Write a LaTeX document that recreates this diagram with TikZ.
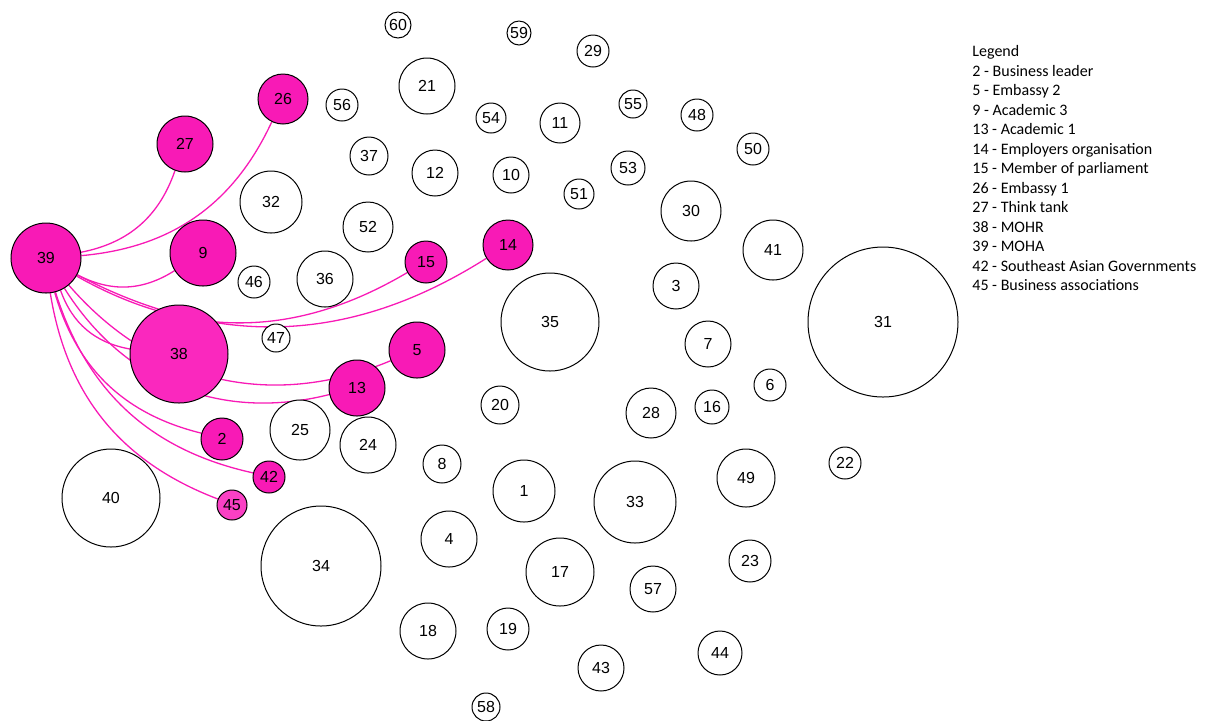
\documentclass[tikz,border=0pt]{standalone}
\usepackage{fontspec}
\setmainfont{Liberation Sans}
\newfontfamily\legendfont{Carlito}
\usetikzlibrary{backgrounds}

\definecolor{mohapink}{RGB}{248,26,182}
\definecolor{mohrpink}{RGB}{250,40,190}
\definecolor{assocpink}{RGB}{250,64,196}

\begin{document}
\begin{tikzpicture}[x=0.5pt, y=-0.5pt,
    actor/.style={circle, draw=black, line width=0.5pt, inner sep=0pt, fill=white,
                  font=\fontsize{8pt}{9pt}\selectfont},
    linked/.style={actor, fill=mohapink},
    tie/.style={mohapink, line width=0.65pt},
    legend/.style={anchor=north west, align=left, inner sep=0pt,
                   font=\legendfont\fontsize{8pt}{9.75pt}\selectfont}]
    \useasboundingbox (0,0) rectangle (1211,720);
    % Akteure ohne Verbindung
    \foreach \lbl/\x/\y/\r in {60/398/25/13, 59/519/33/12, 29/593/51/16, 21/427/86/28,
        56/342/105/16, 54/491/118/15, 11/560/123/20, 55/633/104/14, 48/697/115/16,
        50/753/149/16, 37/369/156/19, 12/435/173/23, 10/511/175/18, 53/628/168/17,
        51/579/194/15, 32/271/202/31, 30/691/211/30, 52/368/227/25, 41/773/250/30,
        46/254/282/16, 36/325/279/28, 3/676/286/23, 31/883/322/75, 35/550/322/49,
        47/276/338/14, 7/708/344/23, 6/770/385/16, 20/500/405/19, 28/651/413/25,
        16/712/407/17, 25/300/430/30, 24/368/445/28, 8/442/464/19, 22/845/463/16,
        1/524/491/31, 33/635/502/41, 49/746/478/29, 40/111/498/49, 4/449/539/28,
        34/321/566/60, 23/750/561/21, 17/560/572/34, 57/653/589/23, 18/428/631/28,
        19/508/629/21, 43/601/668/23, 44/720/653/22, 58/486/707/14} {
        \node[actor, minimum size=\r pt] (n\lbl) at (\x,\y) {\lbl};
    }
    % Netzwerk von 39
    \foreach \lbl/\x/\y/\r in {39/46/258/35, 27/185/144/28, 26/283/99/25, 9/203/253/33,
        15/426/262/21, 14/508/245/25, 5/417/350/28, 13/357/388/28, 2/222/439/21,
        42/269/477/16} {
        \node[linked, minimum size=\r pt] (n\lbl) at (\x,\y) {\lbl};
    }
    \node[linked, fill=mohrpink, minimum size=49pt] (n38) at (179,354) {38};
    \node[linked, fill=assocpink, minimum size=15pt] (n45) at (232,505) {45};
    \begin{scope}[on background layer]
        \foreach \t in {27,26,9,15,14,38,2,42,45}
            \draw[tie] (n39) to[bend right=30] (n\t);
        \foreach \t in {5,13}
            \draw[tie] (n39) to[bend right=36] (n\t);
    \end{scope}
    % Legende
    \node[legend] (legend) at (972,45) {Legend\\2 - Business leader\\5 - Embassy 2\\
        9 - Academic 3\\13 - Academic 1\\14 - Employers organisation\\
        15 - Member of parliament\\26 - Embassy 1\\27 - Think tank\\38 - MOHR\\
        39 - MOHA\\42 - Southeast Asian Governments\\45 - Business associations};
\end{tikzpicture}
\end{document}
